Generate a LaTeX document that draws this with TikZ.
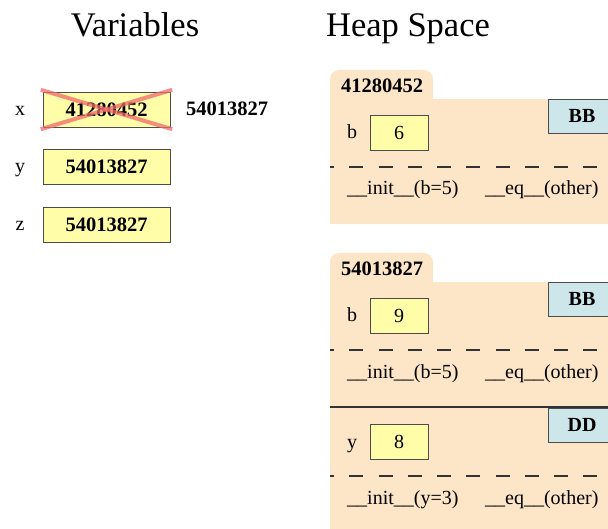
\documentclass[tikz,border=0pt]{standalone}
\usepackage{fontspec}
\setmainfont{Liberation Serif}

\definecolor{cellyellow}{HTML}{FFFDA8}
\definecolor{heapfill}{HTML}{FDE5C8}
\definecolor{tagblue}{HTML}{CCE6EA}
\definecolor{crossred}{HTML}{F06A6A}

\begin{document}
\begin{tikzpicture}[x=1pt, y=-1pt]

\clip (0,0) rectangle (608,529);

\tikzset{%
    heading/.style={anchor=base, font=\fontsize{34.5}{34}\selectfont},
    varname/.style={anchor=base, font=\fontsize{20}{20}\selectfont},
    addr/.style={anchor=base, font=\fontsize{20.5}{20}\selectfont\bfseries},
    addrcell/.style={draw=black!70, fill=cellyellow, minimum width=127pt, minimum height=35pt,
        inner sep=0pt, font=\fontsize{20.5}{20}\selectfont\bfseries},
    fieldcell/.style={draw=black!70, fill=cellyellow, minimum width=58pt, minimum height=35pt,
        inner sep=0pt, font=\fontsize{20}{20}\selectfont},
    classtag/.style={draw=black!70, fill=tagblue, minimum width=68pt, minimum height=34pt,
        inner sep=0pt, font=\fontsize{20}{20}\selectfont\bfseries},
    method/.style={anchor=base west, inner sep=0pt, font=\fontsize{20}{20}\selectfont},
    dashline/.style={black!80, line width=2.5pt, dash pattern=on 14pt off 15.25pt, dash phase=10pt},
    crossline/.style={crossred, line width=4pt, opacity=0.75}
}

\node[heading] (varhead) at (135,37) {Variables};
\node[heading] (heaphead) at (408,37) {Heap Space};

% call frame variables
\foreach \v/\y/\a in {x/109.5/41280452, y/166.5/54013827, z/224.5/54013827} {
    \node[varname] (name\v) at (20,\y+6.5) {\v};
    \node[addrcell] (cell\v) at (106.5,\y) {\a};
}
\draw[crossline] ([shift={(-2,-2)}]cellx.north west) -- ([shift={(2,2)}]cellx.south east);
\draw[crossline] ([shift={(-2,2)}]cellx.south west) -- ([shift={(2,-2)}]cellx.north east);
\node[addr] (newaddr) at (227,116) {54013827};

% folders
\fill[heapfill] (330,99) rectangle (620,224);
\fill[heapfill] (330,282) rectangle (620,540);
\foreach \top/\a [count=\n] in {70/41280452, 253/54013827} {
    \fill[heapfill, rounded corners=9pt] (330,\top+40) -- (330,\top) -- (433,\top) -- (433,\top+40) -- cycle;
    \node[addr] (folder\n) at (382,\top+23) {\a};
}

\foreach \dy/\cls/\fld/\val/\arg [count=\n] in {0/BB/b/6/b=5, 183/BB/b/9/b=5, 309/DD/y/8/y=3} {
    \begin{scope}[shift={(0,\dy)}]
        \node[classtag] (tag\n) at (582,116) {\cls};
        \node[varname] (fname\n) at (352,139) {\fld};
        \node[fieldcell] (field\n) at (399,132.5) {\val};
        \draw[dashline] (330,167) -- (608,167);
        \node[method] (init\n) at (347,195) {\_\_init\_\_(\arg)};
        \node[method] (eq\n) at (485,195) {\_\_eq\_\_(other)};
    \end{scope}
}
\draw[black!80, line width=2pt] (330,407) -- (620,407);

\end{tikzpicture}
\end{document}
